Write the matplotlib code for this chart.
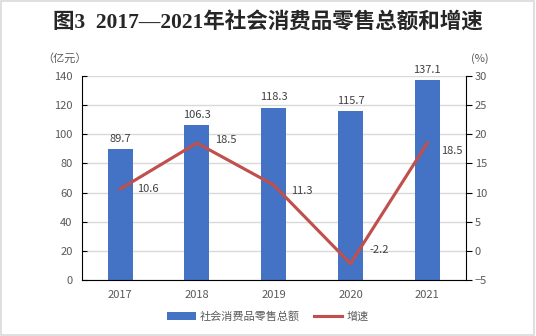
import numpy as np
import matplotlib.pyplot as plt
from matplotlib.patches import Rectangle

years = ["2017", "2018", "2019", "2020", "2021"]
sales = [89.7, 106.3, 118.3, 115.7, 137.1]
growth = [10.6, 18.5, 11.3, -2.2, 18.5]

plt.rcParams['font.family'] = ['Noto Sans CJK SC', 'DejaVu Sans']
tc = '#595959'
bar_c = '#4472C4'
line_c = '#C0504D'

fig = plt.figure(figsize=(5.36, 3.36), dpi=100)
fig.patches.append(Rectangle((0.002, 0.003), 0.995, 0.994, transform=fig.transFigure,
                             fill=False, edgecolor='#D9D9D9', linewidth=1.2))

ax = fig.add_axes([0.1524, 0.1667, 0.7165, 0.6071])
x = np.arange(len(years))
ax.bar(x, sales, width=0.325, color=bar_c, zorder=2, label='社会消费品零售总额')
ax.set_xlim(-0.5, 4.5)
ax.set_ylim(0, 140)
ax.set_yticks(range(0, 141, 20))
ax.grid(axis='y', color='#D9D9D9', linewidth=1, zorder=0)
ax.set_axisbelow(True)
ax.set_xticks(x)
ax.set_xticklabels(years)
ax.tick_params(axis='x', length=0, pad=7, labelsize=8, labelcolor=tc)
ax.tick_params(axis='y', direction='in', length=3.7, labelsize=8, labelcolor=tc, pad=6.5)
ax.spines['top'].set_visible(False)
ax.spines['right'].set_visible(False)
ax.spines['left'].set_color('black')
ax.spines['bottom'].set_color('black')
for xi, v in zip(x, sales):
    ax.annotate(f"{v}", (xi, v), xytext=(0, 7.5), textcoords='offset points',
                ha='center', va='center', fontsize=8, color='#404040')

ax2 = ax.twinx()
ax2.plot(x, growth, color=line_c, linewidth=2.25, zorder=3, label='增速')
ax2.set_ylim(-5, 30)
ax2.set_yticks(range(-5, 31, 5))
ax2.tick_params(axis='y', direction='out', length=4.5, labelsize=8, labelcolor=tc, pad=2)
for s in ['top', 'left', 'bottom']:
    ax2.spines[s].set_visible(False)
ax2.spines['right'].set_color('black')
offsets = [(12, 0), (13, 2), (12.5, -4), (13.5, 10), (10, -6)]
for xi, v, off in zip(x, growth, offsets):
    ax2.annotate(f"{v}", (xi, v), xytext=off, textcoords='offset points',
                 ha='left', va='center', fontsize=8, color='#404040')

fig.text(0.5, 0.932, "图3  2017—2021年社会消费品零售总额和增速", ha='center', va='center',
         fontsize=15.5, fontweight='bold', color='#262626',
         family=['Liberation Serif', 'Noto Sans CJK SC'])
fig.text(0.12, 0.827, "（亿元）", ha='center', va='center', fontsize=8, color=tc)
fig.text(0.895, 0.827, "(%)", ha='center', va='center', fontsize=8, color=tc)

h1, l1 = ax.get_legend_handles_labels()
h2, l2 = ax2.get_legend_handles_labels()
fig.legend(h1 + h2, l1 + l2, loc='center', bbox_to_anchor=(0.5, 0.0575), ncol=2,
           frameon=False, fontsize=8, handlelength=2.6, handleheight=0.8,
           columnspacing=1.2, handletextpad=0.4, labelcolor=tc)

fig.savefig("out.png", dpi=100)
